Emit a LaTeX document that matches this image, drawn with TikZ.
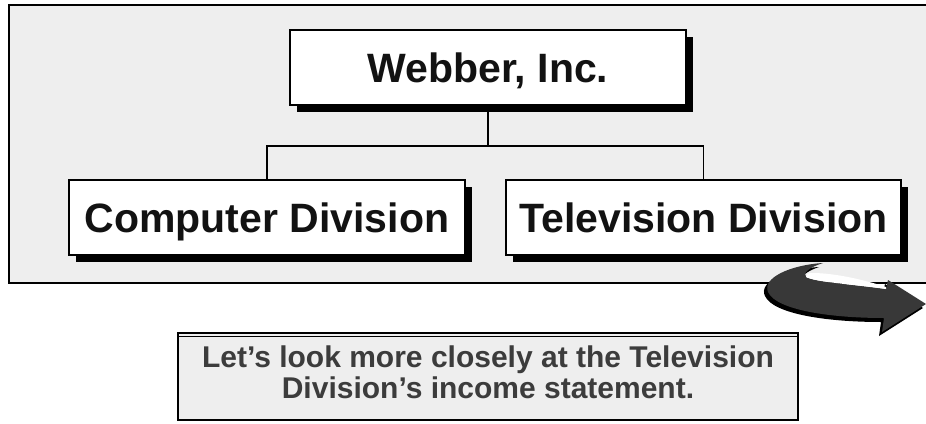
\documentclass[tikz,border=0pt]{standalone}
\usepackage{fontspec}
\setmainfont{Liberation Sans}
\usetikzlibrary{shadows}
\definecolor{panelgray}{HTML}{EEEEEE}
\definecolor{notetext}{HTML}{3C3C3C}
\definecolor{arrowgray}{HTML}{383838}
\tikzset{
  orgbox/.style={draw=black, line width=1.6pt, fill=white, rectangle, inner sep=0pt,
    minimum width=396pt, minimum height=75pt, text height=30pt, text depth=0pt,
    font=\fontsize{41}{41}\selectfont\bfseries, text=black!93,
    drop shadow={shadow xshift=7pt, shadow yshift=-7pt, opacity=1, fill=black}},
  link/.style={draw=black, line width=1.3pt},
  notetxt/.style={anchor=base, inner sep=0pt, font=\fontsize{30}{30}\selectfont\bfseries, text=notetext}
}
\begin{document}
\begin{tikzpicture}[x=1pt, y=-1pt]
\useasboundingbox (0,0) rectangle (926,423);
\clip (0,0) rectangle (926,423);
% panel
\draw[fill=panelgray, draw=black, line width=1.3pt] (9,5) rectangle (945,283);
% boxes
\node[orgbox] (web) at (488,67.5) {Webber, Inc.};
\node[orgbox] (comp) at (267,217.5) {Computer Division};
\node[orgbox, minimum width=395pt] (tv) at (703.5,217.5) {Television Division};
\coordinate (j) at (488,146);
\draw[link] (web.south) -- (j);
\draw[link] (comp.north) |- (j);
\draw[link] (tv.north) |- (j);
% curved arrow shadow
\fill[black] (819,267)
  .. controls (786,269) and (758,282) .. (765,296)
  .. controls (773,314) and (827,322) .. (881,322)
  -- (879,336) -- (923,308) -- (885,284) -- (883,293)
  .. controls (847,288) and (812,286) .. (803,281)
  .. controls (799,277) and (807,271) .. (819,267) -- cycle;
% curved arrow body
\fill[arrowgray] (823,263)
  .. controls (790,265) and (762,278) .. (768,292)
  .. controls (776,310) and (830,318) .. (884,318)
  -- (882,332) -- (926,304) -- (888,280) -- (886,289)
  .. controls (850,284) and (815,282) .. (806,277)
  .. controls (802,273) and (810,267) .. (823,263) -- cycle;
% highlight
\fill[white] (806,277)
  .. controls (806,274) and (808,273) .. (812,273)
  .. controls (835,273) and (865,280) .. (886,287)
  -- (886,289)
  .. controls (850,284) and (815,282) .. (806,277) -- cycle;
% note box
\node[draw=black, line width=1.6pt, fill=panelgray, rectangle, inner sep=0pt,
  minimum width=620pt, minimum height=87pt] (note) at (488,376.5) {};
\draw[black, line width=0.8pt] ([yshift=-4pt]note.north west) -- ([yshift=-4pt]note.north east);
\node[notetxt] (l1) at (488,367) {Let’s look more closely at the Television};
\node[notetxt] (l2) at (488,398) {Division’s income statement.};
\end{tikzpicture}
\end{document}
